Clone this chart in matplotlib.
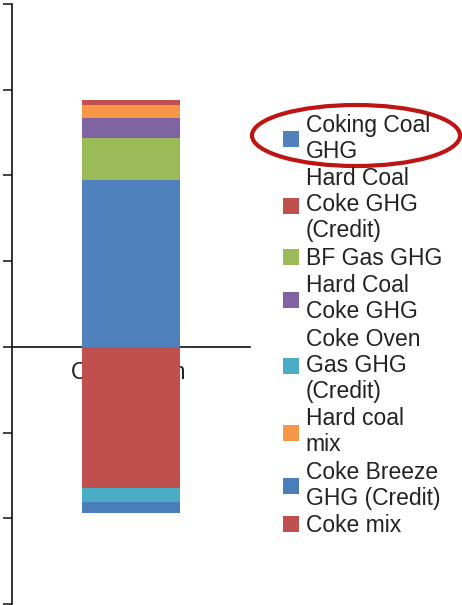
import numpy as np
import matplotlib
matplotlib.use("Agg")
import matplotlib.pyplot as plt
from matplotlib.patches import Ellipse

plt.rcParams['font.family'] = ['Liberation Sans', 'DejaVu Sans']

categories = ["Coke Oven"]
series_labels = [
    "Coking Coal\nGHG",
    "Hard Coal\nCoke GHG\n(Credit)",
    "BF Gas GHG",
    "Hard Coal\nCoke GHG",
    "Coke Oven\nGas GHG\n(Credit)",
    "Hard coal\nmix",
    "Coke Breeze\nGHG (Credit)",
    "Coke mix",
]
series_values = [1.95, -1.65, 0.49, 0.23, -0.16, 0.15, -0.13, 0.06]
series_colors = ["#4F81BD", "#C0504D", "#9BBB59", "#8064A2",
                 "#4BACC6", "#F79646", "#4A7EBB", "#C0504D"]

W, H = 462, 605
fig = plt.figure(figsize=(W / 100, H / 100), dpi=100)
ax = fig.add_axes([12 / W, 1 - 604 / H, (250 - 12) / W, 600 / H])

# stacked bars: positives grow upward, negatives grow downward
pos_base, neg_base = 0.0, 0.0
handles = []
for val, col in zip(series_values, series_colors):
    if val >= 0:
        b = ax.bar(0, val, width=0.41, bottom=pos_base, color=col, zorder=3)
        pos_base += val
    else:
        b = ax.bar(0, val, width=0.41, bottom=neg_base, color=col, zorder=3)
        neg_base += val
    handles.append(b)

ax.set_xlim(-0.5, 0.5)
ax.set_ylim(-3, 4)
ax.set_yticks(np.arange(-3, 5, 1))
ax.set_yticklabels([])
ax.set_xticks([])
ax.tick_params(axis="y", direction="out", length=6.5, width=1.1, color="#111111")

# category name sits under the zero line, partly hidden by the bar
for i, cat in enumerate(categories):
    ax.text(i - 0.01, -0.17, cat, ha="center", va="top", fontsize=16.5,
            color="#222222", zorder=2)

for s in ["top", "right"]:
    ax.spines[s].set_visible(False)
ax.spines["bottom"].set_position(("data", 0))
for s in ["left", "bottom"]:
    ax.spines[s].set_linewidth(1.2)
    ax.spines[s].set_color("#111111")

leg = fig.legend(handles, series_labels, loc="upper left",
                 bbox_to_anchor=(283 / W, 1 - 114 / H),
                 frameon=False, fontsize=16.5, handlelength=0.7,
                 handleheight=0.7, handletextpad=0.3, labelspacing=0.2,
                 borderpad=0, borderaxespad=0)
for t in leg.get_texts():
    t.set_linespacing(1.16)
    t.set_color("#222222")

# highlight ring around the first legend entry
ring = Ellipse((356 / W, 1 - 135.5 / H), 208 / W, 61 / H,
               transform=fig.transFigure, fill=False,
               edgecolor="#BE1414", linewidth=3)
fig.add_artist(ring)

fig.savefig("out.png", dpi=100)
